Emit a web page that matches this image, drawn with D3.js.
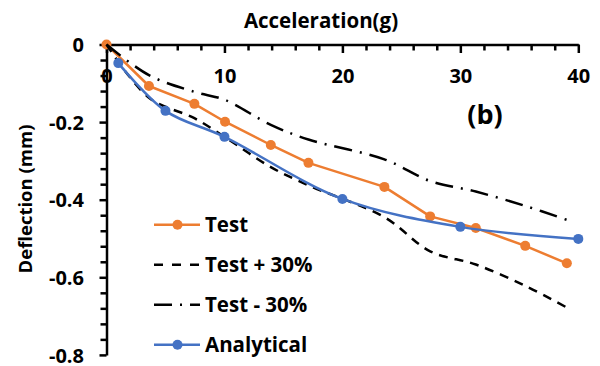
<!DOCTYPE html>
<html><head><meta charset="utf-8">
<script src="https://cdn.jsdelivr.net/npm/d3@7"></script>
<style>
body{margin:0;background:#fff}
svg{display:block}
text{font-family:"Open Sans",Lato,sans-serif;font-weight:700;fill:#000}
</style>
</head><body>
<svg id="c" width="600" height="366"></svg>
<script>
// ---- data ----
const testX  = [0, 3.6, 7.45, 10.05, 13.93, 17.12, 23.56, 27.44, 31.31, 35.5, 39.03];
const testY  = [0, -0.107, -0.153, -0.199, -0.259, -0.305, -0.367, -0.443, -0.473, -0.519, -0.564];
const plusX  = [0, 3.6, 7.45, 10.05, 13.93, 17.12, 23.56, 27.44, 31.31, 35.5, 39.03];
const plusY  = [0, -0.137, -0.19, -0.239, -0.316, -0.363, -0.445, -0.533, -0.567, -0.622, -0.678];
const minusX = [0, 3.6, 7.45, 10.05, 13.93, 17.12, 23.56, 27.44, 31.31, 35.5, 39.03];
const minusY = [0, -0.079, -0.122, -0.143, -0.207, -0.245, -0.296, -0.352, -0.379, -0.416, -0.452];
const anaX   = [1, 5, 10, 20, 30, 40];
const anaY   = [-0.048, -0.171, -0.238, -0.398, -0.470, -0.501];
const seriesNames = ["Test", "Test + 30%", "Test - 30%", "Analytical"];
const xTicks = [0, 10, 20, 30, 40];
const xTickLabels = ["0", "10", "20", "30", "40"];
const yTicks = [0, -0.2, -0.4, -0.6, -0.8];
const yTickLabels = ["0", "-0.2", "-0.4", "-0.6", "-0.8"];
const xTitle = "Acceleration(g)";
const yTitle = "Deflection (mm)";
const panelLabel = "(b)";

// ---- styles ----
const ORANGE = "#ED7D31", BLUE = "#4472C4";
const svg = d3.select("#c");
const x = d3.scaleLinear().domain([0, 40]).range([106.5, 578.3]);
const y = d3.scaleLinear().domain([-0.8, 0]).range([354.9, 44.5]);

// minor ticks
const xMinor = d3.range(0, 41, 2).filter(v => v % 10 !== 0);
const yMinor = d3.range(0, 21).filter(i => i % 5 !== 0).map(i => -i * 0.04);

const gxm = svg.append("g").attr("transform", `translate(0,${y(0)})`)
  .call(d3.axisBottom(x).tickValues(xMinor).tickSize(6).tickFormat(""));
gxm.select(".domain").remove();
const gym = svg.append("g").attr("transform", `translate(${x(0)},0)`)
  .call(d3.axisLeft(y).tickValues(yMinor).tickSize(6).tickFormat(""));
gym.select(".domain").remove();

const gx = svg.append("g").attr("transform", `translate(0,${y(0)})`)
  .call(d3.axisBottom(x).tickValues(xTicks).tickSize(8.5).tickSizeOuter(0)
    .tickFormat((d, i) => xTickLabels[i]));
gx.selectAll("text").attr("y", 38.5).attr("dy", 0);

const gy = svg.append("g").attr("transform", `translate(${x(0)},0)`)
  .call(d3.axisLeft(y).tickValues(yTicks).tickSize(7).tickSizeOuter(0)
    .tickFormat((d, i) => yTickLabels[i]));
gy.selectAll("text").attr("x", -22.5).attr("dy", "0.36em");

svg.selectAll(".tick line, .domain").attr("stroke", "#000").attr("stroke-width", 2.5);
svg.selectAll(".tick text").style("font-size", "20px").style("font-family", "'Open Sans'").attr("fill", "#000");

// ---- series ----
const zip = (xs, ys) => xs.map((v, i) => [v, ys[i]]);
const lineLin = d3.line().x(d => x(d[0])).y(d => y(d[1]));
const lineSmooth = d3.line().x(d => x(d[0])).y(d => y(d[1])).curve(d3.curveCatmullRom.alpha(0.5));

const testData = zip(testX, testY), plusData = zip(plusX, plusY),
      minusData = zip(minusX, minusY), anaData = zip(anaX, anaY);

svg.append("path").datum(testData).attr("d", lineLin)
  .attr("fill", "none").attr("stroke", ORANGE).attr("stroke-width", 2.5).attr("stroke-linejoin", "round");
svg.append("g").selectAll("circle").data(testData).join("circle")
  .attr("cx", d => x(d[0])).attr("cy", d => y(d[1])).attr("r", 5).attr("fill", ORANGE);

svg.append("path").datum(plusData).attr("d", lineSmooth)
  .attr("fill", "none").attr("stroke", "#000").attr("stroke-width", 2.5).attr("stroke-dasharray", "9,7");
svg.append("path").datum(minusData).attr("d", lineSmooth)
  .attr("fill", "none").attr("stroke", "#000").attr("stroke-width", 2.5).attr("stroke-dasharray", "18,8,2,8");

svg.append("path").datum(anaData).attr("d", lineSmooth)
  .attr("fill", "none").attr("stroke", BLUE).attr("stroke-width", 2.5);
svg.append("g").selectAll("circle").data(anaData).join("circle")
  .attr("cx", d => x(d[0])).attr("cy", d => y(d[1])).attr("r", 5).attr("fill", BLUE);

// ---- titles ----
svg.append("text").attr("x", 321).attr("y", 28).attr("text-anchor", "middle")
  .style("font-size", "20.5px").text(xTitle);
svg.append("text").attr("transform", "translate(32,199) rotate(-90)").attr("text-anchor", "middle")
  .style("font-size", "18.5px").text(yTitle);
svg.append("text").attr("x", 485).attr("y", 124).attr("text-anchor", "middle")
  .style("font-size", "27px").text(panelLabel);

// ---- legend ----
const legStyles = [
  {stroke: ORANGE, dash: null, marker: true},
  {stroke: "#000", dash: "9,9", marker: false},
  {stroke: "#000", dash: "18,8,2,8", marker: false},
  {stroke: BLUE, dash: null, marker: true}
];
const leg = svg.append("g");
seriesNames.forEach((name, i) => {
  const ly = 224.7 + 40 * i, s = legStyles[i];
  const g = leg.append("g");
  g.append("line").attr("x1", 154).attr("x2", 200).attr("y1", ly).attr("y2", ly)
    .attr("stroke", s.stroke).attr("stroke-width", 2.5).attr("stroke-dasharray", s.dash);
  if (s.marker) g.append("circle").attr("cx", 177.5).attr("cy", ly).attr("r", 5).attr("fill", s.stroke);
  g.append("text").attr("x", 205).attr("y", ly + 7.5).style("font-size", "20.5px").text(name);
});
</script>
</body></html>
